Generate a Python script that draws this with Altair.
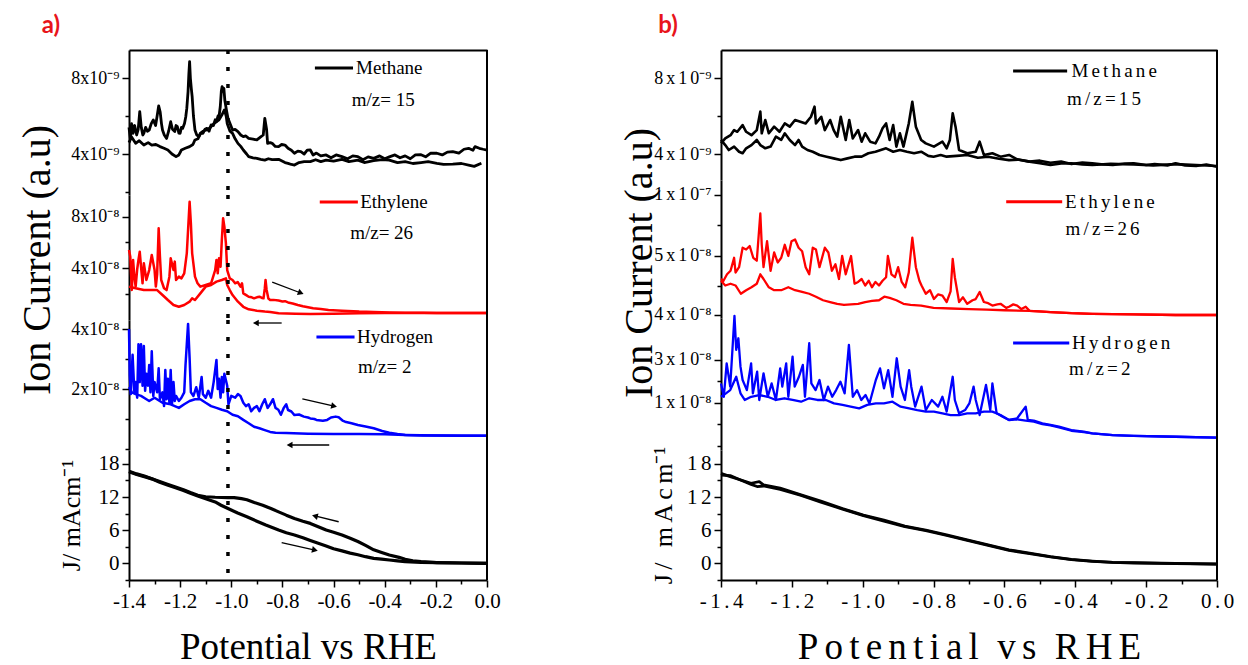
import json
import math
import altair as alt
import pandas as pd

FONT = "Liberation Serif"
HS = "\u200a\u200a"
NBSP = "\u00a0"


def spaced(s):
    return HS.join(s)


# ------------------------------------------------------------------ data
# x = potential vs RHE (V); y = value in units shown on each axis segment
# Panel a ----------------------------------------------------------------
A_CH4_UP = [(-1.400, 5.4), (-1.395, 4.8), (-1.390, 5.6), (-1.384, 5.09), (-1.378, 5.5), (-1.370, 5.0), (-1.364, 5.3),
            (-1.358, 6.23), (-1.352, 5.4), (-1.346, 5.0), (-1.342, 5.09), (-1.335, 5.4), (-1.328, 5.2), (-1.321, 5.26),
            (-1.313, 5.6), (-1.305, 5.79), (-1.296, 5.5), (-1.290, 6.0), (-1.284, 6.53), (-1.278, 6.2), (-1.273, 5.6),
            (-1.269, 5.26), (-1.262, 5.0), (-1.253, 4.82), (-1.245, 5.2), (-1.237, 5.70), (-1.230, 5.3), (-1.221, 5.18),
            (-1.216, 5.5), (-1.211, 5.44), (-1.205, 5.1), (-1.200, 5.09), (-1.195, 5.4), (-1.190, 5.35), (-1.183, 5.6),
            (-1.178, 5.96), (-1.174, 6.4), (-1.169, 7.3), (-1.166, 8.2), (-1.163, 8.86), (-1.160, 8.0), (-1.156, 7.4),
            (-1.153, 7.02), (-1.148, 6.0), (-1.142, 5.26), (-1.135, 5.0), (-1.127, 4.91), (-1.119, 5.1), (-1.111, 5.09),
            (-1.103, 5.3), (-1.095, 5.35), (-1.087, 5.2), (-1.079, 5.53), (-1.070, 5.5), (-1.063, 5.8), (-1.058, 5.70),
            (-1.052, 6.0), (-1.048, 5.96), (-1.043, 6.5), (-1.039, 7.3), (-1.036, 7.54), (-1.032, 7.3), (-1.029, 7.46),
            (-1.025, 6.8), (-1.019, 6.32), (-1.013, 5.88), (-1.005, 5.6), (-0.995, 5.26), (-0.985, 5.3), (-0.974, 5.18),
            (-0.963, 5.0), (-0.953, 4.91), (-0.943, 4.95), (-0.932, 4.82), (-0.915, 4.78), (-0.900, 4.74), (-0.885, 4.9),
            (-0.875, 5.0), (-0.869, 5.88), (-0.862, 5.3), (-0.858, 4.56), (-0.848, 4.6), (-0.840, 4.56), (-0.828, 4.4),
            (-0.815, 4.39), (-0.803, 4.5), (-0.790, 4.47), (-0.778, 4.3), (-0.765, 4.2), (-0.753, 4.04), (-0.740, 4.15),
            (-0.728, 4.12), (-0.715, 4.0), (-0.703, 4.2), (-0.691, 4.21), (-0.680, 3.95), (-0.667, 4.05), (-0.650, 3.9),
            (-0.629, 3.95), (-0.610, 3.8), (-0.590, 3.95), (-0.567, 3.86), (-0.545, 3.75), (-0.525, 3.9), (-0.505, 3.86),
            (-0.485, 3.7), (-0.465, 3.85), (-0.443, 3.77), (-0.420, 3.9), (-0.400, 3.75), (-0.382, 3.85), (-0.360, 3.95),
            (-0.340, 3.8), (-0.320, 3.9), (-0.300, 3.75), (-0.280, 3.95), (-0.258, 3.96), (-0.240, 3.85), (-0.220, 4.05),
            (-0.196, 4.04), (-0.175, 3.95), (-0.155, 4.1), (-0.134, 4.12), (-0.110, 4.05), (-0.090, 4.25), (-0.072, 4.30),
            (-0.055, 4.2), (-0.047, 4.39), (-0.030, 4.3), (-0.015, 4.25), (0.000, 4.21)]
A_CH4_DN = [(-1.400, 4.6), (-1.390, 4.9), (-1.374, 4.56), (-1.360, 4.7), (-1.342, 4.47), (-1.325, 4.6), (-1.311, 4.47),
            (-1.295, 4.5), (-1.279, 4.39), (-1.263, 4.3), (-1.248, 4.21), (-1.232, 4.0), (-1.216, 3.86), (-1.205, 3.95),
            (-1.195, 4.21), (-1.180, 4.3), (-1.163, 4.39), (-1.150, 4.5), (-1.142, 4.74), (-1.130, 4.8), (-1.121, 5.09),
            (-1.110, 5.2), (-1.100, 5.26), (-1.090, 5.3), (-1.079, 5.44), (-1.068, 5.6), (-1.058, 5.70), (-1.048, 5.8),
            (-1.037, 6.05), (-1.027, 6.32), (-1.020, 6.0), (-1.016, 5.61), (-1.005, 5.2), (-0.995, 5.09), (-0.985, 4.8),
            (-0.974, 4.56), (-0.963, 4.4), (-0.953, 4.21), (-0.940, 4.0), (-0.932, 3.86), (-0.915, 3.8), (-0.900, 3.77),
            (-0.885, 3.72), (-0.869, 3.68), (-0.855, 3.75), (-0.840, 3.70), (-0.815, 3.72), (-0.790, 3.55), (-0.778, 3.51),
            (-0.765, 3.45), (-0.753, 3.42), (-0.735, 3.55), (-0.715, 3.6), (-0.691, 3.60), (-0.670, 3.7), (-0.650, 3.6),
            (-0.629, 3.68), (-0.600, 3.62), (-0.567, 3.72), (-0.540, 3.6), (-0.505, 3.68), (-0.480, 3.55), (-0.443, 3.65),
            (-0.410, 3.7), (-0.382, 3.68), (-0.350, 3.55), (-0.320, 3.60), (-0.290, 3.5), (-0.258, 3.55), (-0.230, 3.6),
            (-0.196, 3.51), (-0.170, 3.45), (-0.134, 3.47), (-0.100, 3.5), (-0.072, 3.42), (-0.050, 3.35), (-0.022, 3.51)]

A_C2H4_UP = [(-1.400, 5.41), (-1.395, 4.89), (-1.389, 2.27), (-1.384, 4.63), (-1.379, 3.32), (-1.374, 2.54),
             (-1.368, 3.9), (-1.363, 4.63), (-1.358, 5.28), (-1.353, 4.10), (-1.347, 2.80), (-1.342, 4.37),
             (-1.332, 3.06), (-1.321, 3.84), (-1.311, 5.02), (-1.300, 3.84), (-1.295, 2.54), (-1.290, 3.5),
             (-1.284, 7.11), (-1.279, 4.89), (-1.274, 3.06), (-1.263, 2.41), (-1.253, 2.27), (-1.242, 3.32),
             (-1.237, 4.76), (-1.226, 3.84), (-1.221, 4.50), (-1.216, 3.06), (-1.205, 3.32), (-1.195, 3.19),
             (-1.184, 3.58), (-1.174, 5.15), (-1.169, 6.98), (-1.163, 9.20), (-1.158, 7.5), (-1.153, 5.15),
             (-1.142, 3.32), (-1.132, 2.80), (-1.121, 2.54), (-1.100, 2.67), (-1.079, 2.80), (-1.063, 3.84),
             (-1.058, 4.63), (-1.053, 3.58), (-1.048, 4.76), (-1.042, 4.10), (-1.037, 6.20), (-1.032, 7.90),
             (-1.027, 7.24), (-1.021, 5.93), (-1.016, 3.84), (-1.006, 3.19), (-0.995, 3.06), (-0.985, 2.80),
             (-0.975, 2.9), (-0.964, 2.54), (-0.958, 2.8), (-0.953, 2.01), (-0.940, 1.85), (-0.932, 1.75),
             (-0.920, 1.7), (-0.911, 1.62), (-0.900, 1.7), (-0.890, 1.75), (-0.880, 1.65), (-0.874, 1.62),
             (-0.869, 2.4), (-0.866, 3.06), (-0.862, 2.3), (-0.855, 1.6), (-0.848, 1.49), (-0.835, 1.5),
             (-0.815, 1.45), (-0.800, 1.38), (-0.790, 1.4), (-0.778, 1.3), (-0.760, 1.22), (-0.740, 1.10),
             (-0.720, 1.0), (-0.700, 0.92), (-0.680, 0.84), (-0.650, 0.78), (-0.620, 0.7), (-0.567, 0.65),
             (-0.500, 0.58), (-0.443, 0.55), (-0.380, 0.52), (-0.320, 0.50), (-0.250, 0.49), (-0.196, 0.48),
             (-0.100, 0.47), (0.000, 0.47)]
A_C2H4_DN = [(-1.400, 2.54), (-1.374, 2.41), (-1.342, 2.27), (-1.311, 2.27), (-1.290, 2.27), (-1.269, 1.88),
             (-1.248, 1.49), (-1.226, 1.10), (-1.205, 0.96), (-1.184, 1.10), (-1.163, 1.36), (-1.153, 1.62),
             (-1.142, 1.49), (-1.121, 2.01), (-1.100, 2.54), (-1.079, 2.67), (-1.058, 2.93), (-1.037, 3.06),
             (-1.021, 3.19), (-1.016, 2.67), (-1.006, 2.27), (-0.995, 1.88), (-0.974, 1.36), (-0.953, 0.96),
             (-0.932, 0.76), (-0.900, 0.65), (-0.869, 0.58), (-0.848, 0.55), (-0.815, 0.45), (-0.750, 0.42),
             (-0.691, 0.40), (-0.600, 0.42), (-0.500, 0.45), (-0.400, 0.47), (-0.300, 0.47), (-0.200, 0.47),
             (-0.100, 0.47), (0.000, 0.47)]

A_H2_UP = [(-1.400, 4.0), (-1.397, 2.46), (-1.393, 1.83), (-1.386, 3.14), (-1.379, 1.89), (-1.374, 2.23), (-1.368, 1.71),
           (-1.363, 3.49), (-1.358, 2.23), (-1.353, 3.49), (-1.347, 2.11), (-1.342, 3.43), (-1.337, 1.94), (-1.332, 2.51),
           (-1.326, 2.11), (-1.321, 2.80), (-1.316, 1.89), (-1.311, 3.26), (-1.305, 1.77), (-1.300, 2.23), (-1.290, 1.89),
           (-1.284, 2.69), (-1.279, 1.66), (-1.269, 1.89), (-1.263, 1.43), (-1.258, 2.63), (-1.253, 1.66), (-1.248, 2.34),
           (-1.242, 1.54), (-1.237, 2.63), (-1.232, 1.49), (-1.226, 2.23), (-1.221, 1.60), (-1.216, 1.77), (-1.205, 1.60),
           (-1.195, 1.71), (-1.184, 1.89), (-1.179, 2.80), (-1.174, 3.49), (-1.169, 4.17), (-1.163, 3.03), (-1.158, 1.89),
           (-1.148, 1.77), (-1.137, 2.06), (-1.127, 1.71), (-1.116, 2.40), (-1.111, 1.83), (-1.100, 1.71), (-1.090, 1.94),
           (-1.079, 1.71), (-1.069, 2.23), (-1.058, 2.97), (-1.053, 2.0), (-1.048, 2.34), (-1.042, 1.71), (-1.037, 2.40),
           (-1.032, 1.89), (-1.027, 2.51), (-1.016, 2.11), (-1.011, 1.49), (-1.000, 1.77), (-0.985, 1.71), (-0.974, 1.83),
           (-0.964, 1.77), (-0.953, 1.54), (-0.943, 1.43), (-0.932, 1.49), (-0.922, 1.26), (-0.911, 1.37), (-0.900, 1.43),
           (-0.890, 1.26), (-0.879, 1.49), (-0.869, 1.66), (-0.858, 1.37), (-0.848, 1.49), (-0.837, 1.66), (-0.827, 1.37),
           (-0.816, 1.31), (-0.806, 1.14), (-0.795, 1.37), (-0.785, 1.49), (-0.778, 1.30), (-0.765, 1.25), (-0.753, 1.13),
           (-0.735, 1.15), (-0.716, 1.08), (-0.700, 1.05), (-0.691, 1.02), (-0.675, 1.0), (-0.667, 0.97), (-0.650, 0.95),
           (-0.642, 0.94), (-0.625, 0.97), (-0.610, 1.05), (-0.592, 1.08), (-0.580, 1.06), (-0.565, 0.95), (-0.555, 0.91),
           (-0.530, 0.86), (-0.505, 0.80), (-0.475, 0.75), (-0.443, 0.69), (-0.410, 0.60), (-0.382, 0.54), (-0.350, 0.50),
           (-0.320, 0.47), (-0.250, 0.45), (-0.196, 0.45), (-0.100, 0.44), (0.000, 0.44)]
A_H2_DN = [(-1.400, 2.06), (-1.389, 1.89), (-1.374, 1.83), (-1.353, 1.77), (-1.332, 1.66), (-1.321, 1.60), (-1.300, 1.71),
           (-1.269, 1.54), (-1.237, 1.49), (-1.205, 1.37), (-1.184, 1.49), (-1.163, 1.60), (-1.142, 1.66), (-1.121, 1.66),
           (-1.100, 1.54), (-1.079, 1.43), (-1.058, 1.37), (-1.037, 1.31), (-1.016, 1.26), (-0.995, 1.14), (-0.974, 1.09),
           (-0.953, 0.97), (-0.932, 0.86), (-0.911, 0.74), (-0.890, 0.69), (-0.869, 0.63), (-0.848, 0.57), (-0.827, 0.54),
           (-0.785, 0.53), (-0.700, 0.51), (-0.600, 0.50), (-0.500, 0.50), (-0.400, 0.49), (-0.320, 0.47), (-0.200, 0.45),
           (0.000, 0.44)]

A_J_UP = [(-1.400, 16.7), (-1.370, 16.2), (-1.340, 15.8), (-1.311, 15.3), (-1.280, 14.8), (-1.250, 14.3), (-1.218, 13.8),
          (-1.187, 13.3), (-1.160, 12.8), (-1.131, 12.3), (-1.100, 12.05), (-1.063, 11.95), (-1.013, 11.9), (-0.989, 11.9),
          (-0.960, 11.7), (-0.939, 11.5), (-0.910, 11.0), (-0.877, 10.5), (-0.845, 9.9), (-0.815, 9.3), (-0.785, 8.7),
          (-0.753, 8.1), (-0.720, 7.6), (-0.691, 7.2), (-0.660, 6.6), (-0.629, 6.0), (-0.600, 5.6), (-0.567, 5.1),
          (-0.535, 4.5), (-0.505, 3.9), (-0.475, 3.2), (-0.443, 2.4), (-0.412, 1.9), (-0.382, 1.45), (-0.344, 1.03),
          (-0.320, 0.67), (-0.290, 0.4), (-0.258, 0.24), (-0.196, 0.06), (-0.100, 0.0), (0.000, -0.06)]
A_J_DN = [(-1.400, 16.6), (-1.370, 16.1), (-1.340, 15.7), (-1.311, 15.3), (-1.280, 14.7), (-1.250, 14.2), (-1.218, 13.7),
          (-1.187, 13.2), (-1.160, 12.7), (-1.131, 12.2), (-1.100, 11.7), (-1.063, 11.1), (-1.040, 10.5), (-1.013, 9.9),
          (-0.975, 9.1), (-0.939, 8.4), (-0.900, 7.6), (-0.865, 6.9), (-0.815, 6.0), (-0.785, 5.5), (-0.753, 5.1),
          (-0.720, 4.6), (-0.691, 4.1), (-0.660, 3.6), (-0.629, 3.1), (-0.600, 2.6), (-0.567, 2.2), (-0.535, 1.8),
          (-0.505, 1.5), (-0.475, 1.15), (-0.443, 0.85), (-0.412, 0.7), (-0.382, 0.55), (-0.350, 0.4), (-0.320, 0.24),
          (-0.258, 0.12), (-0.196, 0.06), (-0.100, 0.0), (0.000, -0.06)]

# Panel b ----------------------------------------------------------------
B_CH4_UP = [(-1.400, 4.56), (-1.388, 4.82), (-1.373, 4.99), (-1.363, 5.26), (-1.354, 5.17), (-1.339, 5.52), (-1.329, 5.17),
            (-1.314, 4.99), (-1.299, 5.26), (-1.289, 6.23), (-1.285, 5.09), (-1.275, 5.79), (-1.265, 5.09), (-1.250, 5.44),
            (-1.235, 5.17), (-1.220, 5.61), (-1.206, 5.44), (-1.191, 5.79), (-1.176, 5.70), (-1.161, 5.61), (-1.146, 5.96),
            (-1.136, 6.49), (-1.132, 5.61), (-1.117, 5.96), (-1.107, 5.26), (-1.092, 5.79), (-1.082, 5.26), (-1.072, 4.91),
            (-1.062, 5.96), (-1.048, 4.74), (-1.038, 5.79), (-1.028, 4.82), (-1.013, 5.26), (-1.003, 4.65), (-0.993, 5.09),
            (-0.979, 4.65), (-0.964, 4.56), (-0.954, 4.91), (-0.944, 5.35), (-0.934, 5.61), (-0.924, 4.74), (-0.914, 5.52),
            (-0.905, 4.39), (-0.895, 5.09), (-0.885, 4.39), (-0.870, 5.61), (-0.860, 6.75), (-0.850, 5.44), (-0.835, 4.74),
            (-0.822, 4.56), (-0.799, 4.39), (-0.775, 4.65), (-0.763, 4.3), (-0.754, 4.74), (-0.746, 6.14), (-0.738, 5.44),
            (-0.728, 4.21), (-0.705, 4.04), (-0.681, 4.12), (-0.670, 4.65), (-0.658, 3.95), (-0.634, 4.04), (-0.611, 3.86),
            (-0.587, 3.95), (-0.564, 3.72), (-0.529, 3.60), (-0.500, 3.65), (-0.470, 3.54), (-0.440, 3.6), (-0.411, 3.47),
            (-0.380, 3.55), (-0.352, 3.51), (-0.320, 3.45), (-0.294, 3.42), (-0.260, 3.5), (-0.235, 3.51), (-0.200, 3.42),
            (-0.176, 3.47), (-0.140, 3.4), (-0.117, 3.51), (-0.090, 3.4), (-0.059, 3.37), (-0.030, 3.45), (0.000, 3.33)]
B_CH4_DN = [(-1.400, 4.74), (-1.388, 4.47), (-1.378, 4.21), (-1.363, 4.39), (-1.349, 4.12), (-1.339, 4.04), (-1.329, 4.30),
            (-1.314, 4.47), (-1.299, 4.74), (-1.289, 4.47), (-1.275, 4.30), (-1.260, 4.39), (-1.245, 4.91), (-1.230, 4.74),
            (-1.220, 5.09), (-1.206, 4.74), (-1.191, 4.47), (-1.181, 4.74), (-1.171, 4.39), (-1.156, 4.21), (-1.141, 4.12),
            (-1.122, 3.95), (-1.102, 3.86), (-1.082, 3.77), (-1.062, 3.68), (-1.043, 3.77), (-1.023, 3.86), (-1.003, 3.86),
            (-0.984, 4.04), (-0.964, 4.12), (-0.949, 4.21), (-0.934, 4.30), (-0.914, 4.12), (-0.895, 4.21), (-0.875, 4.12),
            (-0.855, 4.04), (-0.835, 4.12), (-0.815, 3.9), (-0.800, 3.86), (-0.780, 3.95), (-0.763, 3.86), (-0.735, 3.9),
            (-0.705, 3.95), (-0.675, 3.8), (-0.646, 3.86), (-0.615, 3.75), (-0.587, 3.68), (-0.560, 3.7), (-0.529, 3.60),
            (-0.500, 3.52), (-0.470, 3.42), (-0.440, 3.5), (-0.411, 3.51), (-0.380, 3.45), (-0.352, 3.42), (-0.300, 3.48),
            (-0.235, 3.45), (-0.180, 3.4), (-0.117, 3.47), (-0.059, 3.42), (0.000, 3.37)]

B_C2H4_UP = [(-1.400, 4.61), (-1.393, 4.58), (-1.383, 4.69), (-1.373, 4.75), (-1.363, 4.97), (-1.359, 4.72), (-1.349, 4.81),
             (-1.339, 5.14), (-1.329, 5.11), (-1.319, 5.17), (-1.309, 4.97), (-1.299, 4.92), (-1.289, 5.72), (-1.285, 5.19),
             (-1.280, 4.81), (-1.270, 5.25), (-1.260, 4.75), (-1.250, 5.06), (-1.240, 4.89), (-1.230, 4.97), (-1.220, 5.19),
             (-1.210, 5.00), (-1.201, 5.25), (-1.191, 5.28), (-1.181, 5.14), (-1.171, 5.08), (-1.161, 4.81), (-1.151, 4.69),
             (-1.141, 5.14), (-1.132, 5.11), (-1.122, 4.81), (-1.107, 5.14), (-1.097, 5.06), (-1.087, 4.75), (-1.077, 4.86),
             (-1.067, 4.61), (-1.058, 5.00), (-1.048, 4.69), (-1.033, 5.00), (-1.023, 4.53), (-1.013, 4.56), (-1.003, 4.61),
             (-0.993, 4.50), (-0.983, 4.58), (-0.974, 4.47), (-0.964, 4.56), (-0.954, 4.50), (-0.944, 4.58), (-0.934, 4.64),
             (-0.929, 5.00), (-0.919, 4.69), (-0.909, 4.64), (-0.900, 4.81), (-0.890, 4.56), (-0.880, 4.47), (-0.870, 4.72),
             (-0.860, 5.31), (-0.850, 4.81), (-0.840, 4.58), (-0.834, 4.5), (-0.822, 4.36), (-0.810, 4.42), (-0.799, 4.27),
             (-0.787, 4.35), (-0.775, 4.33), (-0.763, 4.22), (-0.752, 4.4), (-0.746, 4.95), (-0.740, 4.64), (-0.728, 4.22),
             (-0.717, 4.3), (-0.705, 4.19), (-0.690, 4.25), (-0.681, 4.27), (-0.670, 4.39), (-0.658, 4.22), (-0.646, 4.2),
             (-0.634, 4.16), (-0.620, 4.18), (-0.611, 4.19), (-0.595, 4.12), (-0.587, 4.14), (-0.575, 4.18), (-0.564, 4.16),
             (-0.552, 4.1), (-0.540, 4.14), (-0.529, 4.07), (-0.500, 4.06), (-0.470, 4.05), (-0.411, 4.03), (-0.352, 4.02),
             (-0.235, 4.01), (-0.117, 4.0), (0.000, 4.0)]
B_C2H4_DN = [(-1.400, 4.58), (-1.388, 4.50), (-1.373, 4.53), (-1.359, 4.50), (-1.344, 4.36), (-1.329, 4.42), (-1.314, 4.47),
             (-1.299, 4.53), (-1.289, 4.69), (-1.280, 4.61), (-1.265, 4.47), (-1.250, 4.42), (-1.230, 4.42), (-1.210, 4.47),
             (-1.191, 4.42), (-1.171, 4.39), (-1.151, 4.36), (-1.132, 4.31), (-1.112, 4.25), (-1.092, 4.22), (-1.072, 4.19),
             (-1.053, 4.17), (-1.033, 4.18), (-1.013, 4.19), (-0.993, 4.22), (-0.974, 4.24), (-0.954, 4.25), (-0.939, 4.31),
             (-0.924, 4.29), (-0.905, 4.25), (-0.885, 4.19), (-0.865, 4.17), (-0.835, 4.16), (-0.800, 4.12), (-0.750, 4.11),
             (-0.700, 4.10), (-0.650, 4.09), (-0.600, 4.08), (-0.529, 4.07), (-0.470, 4.05), (-0.411, 4.03), (-0.352, 4.02),
             (-0.235, 4.01), (-0.117, 4.0), (0.000, 4.0)]

B_H2_UP = [(-1.400, 1.91), (-1.392, 1.29), (-1.384, 2.84), (-1.374, 1.76), (-1.362, 5.05), (-1.357, 3.47), (-1.351, 4.01),
           (-1.345, 2.69), (-1.339, 2.07), (-1.327, 1.60), (-1.315, 2.84), (-1.310, 1.45), (-1.298, 2.46), (-1.292, 1.14),
           (-1.280, 2.38), (-1.268, 1.29), (-1.257, 1.91), (-1.245, 1.14), (-1.233, 2.61), (-1.227, 1.76), (-1.216, 2.84),
           (-1.210, 1.29), (-1.198, 3.16), (-1.192, 1.76), (-1.180, 2.22), (-1.169, 2.77), (-1.163, 1.29), (-1.151, 3.78),
           (-1.145, 1.91), (-1.133, 1.60), (-1.122, 2.07), (-1.110, 1.14), (-1.098, 1.76), (-1.086, 1.29), (-1.075, 1.60),
           (-1.063, 1.99), (-1.051, 1.45), (-1.039, 3.70), (-1.028, 1.29), (-1.016, 1.60), (-1.004, 1.14), (-0.992, 1.37),
           (-0.981, 0.98), (-0.963, 2.07), (-0.951, 2.61), (-0.940, 1.68), (-0.928, 2.53), (-0.916, 1.29), (-0.904, 3.08),
           (-0.893, 1.76), (-0.881, 1.14), (-0.869, 2.53), (-0.863, 1.76), (-0.852, 0.83), (-0.834, 1.76), (-0.822, 0.67),
           (-0.805, 1.14), (-0.787, 0.83), (-0.775, 1.29), (-0.763, 0.60), (-0.746, 2.22), (-0.740, 1.14), (-0.728, 0.52),
           (-0.711, 0.67), (-0.699, 0.98), (-0.687, 1.76), (-0.681, 1.14), (-0.670, 0.44), (-0.652, 1.84), (-0.640, 0.67),
           (-0.634, 1.91), (-0.622, 0.52), (-0.605, 0.36), (-0.587, 0.21), (-0.564, 0.29), (-0.540, 0.83), (-0.534, 0.21),
           (-0.517, 0.18), (-0.493, 0.05), (-0.470, -0.02), (-0.446, -0.10), (-0.411, -0.26), (-0.376, -0.33),
           (-0.352, -0.41), (-0.294, -0.49), (-0.235, -0.53), (-0.117, -0.57), (0.000, -0.61)]
B_H2_DN = [(-1.400, 1.29), (-1.386, 1.45), (-1.374, 1.60), (-1.357, 2.22), (-1.345, 1.45), (-1.333, 1.14), (-1.315, 1.29),
           (-1.292, 1.37), (-1.268, 1.29), (-1.245, 1.14), (-1.221, 1.22), (-1.198, 1.14), (-1.174, 1.06), (-1.151, 1.22),
           (-1.128, 1.14), (-1.104, 1.14), (-1.081, 0.98), (-1.057, 0.91), (-1.034, 0.83), (-1.010, 0.75), (-0.987, 0.91),
           (-0.963, 0.98), (-0.940, 0.98), (-0.916, 1.06), (-0.893, 0.83), (-0.869, 0.75), (-0.846, 0.67), (-0.822, 0.60),
           (-0.799, 0.60), (-0.775, 0.52), (-0.752, 0.44), (-0.728, 0.44), (-0.705, 0.52), (-0.681, 0.52), (-0.658, 0.60),
           (-0.634, 0.60), (-0.611, 0.44), (-0.587, 0.21), (-0.564, 0.24), (-0.540, 0.18), (-0.517, 0.13), (-0.493, 0.02),
           (-0.470, -0.04), (-0.446, -0.13), (-0.411, -0.29), (-0.376, -0.35), (-0.352, -0.41), (-0.294, -0.49),
           (-0.235, -0.53), (-0.117, -0.57), (0.000, -0.61)]

B_J_1 = [(-1.400, 16.3), (-1.374, 15.7), (-1.315, 14.5), (-1.292, 14.8), (-1.280, 14.2), (-1.233, 13.6), (-1.174, 12.4),
         (-1.116, 11.2), (-1.057, 9.9), (-0.998, 8.7), (-0.940, 7.8), (-0.881, 6.7), (-0.822, 6.0), (-0.763, 5.1),
         (-0.705, 4.2), (-0.646, 3.3), (-0.587, 2.4), (-0.529, 1.8), (-0.470, 1.15), (-0.411, 0.67), (-0.352, 0.36),
         (-0.294, 0.12), (-0.235, 0.06), (-0.117, -0.06), (0.000, -0.18)]
B_J_2 = [(-1.400, 16.0), (-1.374, 15.9), (-1.345, 15.1), (-1.315, 14.3), (-1.298, 13.9), (-1.280, 14.0), (-1.233, 13.4),
         (-1.174, 12.3), (-1.116, 11.0), (-1.057, 9.8), (-0.998, 8.6), (-0.940, 7.6), (-0.881, 6.6), (-0.822, 5.9),
         (-0.763, 5.0), (-0.705, 4.1), (-0.646, 3.2), (-0.587, 2.3), (-0.529, 1.7), (-0.470, 1.1), (-0.411, 0.6),
         (-0.352, 0.3), (-0.294, 0.1), (-0.235, 0.0), (-0.117, -0.1), (0.000, -0.2)]

# axis ticks / labels ------------------------------------------------------
X_TICKS = [-1.4, -1.3, -1.2, -1.1, -1.0, -0.9, -0.8, -0.7, -0.6, -0.5, -0.4, -0.3, -0.2, -0.1, 0.0]
X_MAJOR = [-1.4, -1.2, -1.0, -0.8, -0.6, -0.4, -0.2, 0.0]
X_LABELS = ["-1.4", "-1.2", "-1.0", "-0.8", "-0.6", "-0.4", "-0.2", "0.0"]
J_TICKS = [-3, 0, 3, 6, 9, 12, 15, 18]
J_MAJOR = [0, 6, 12, 18]
J_LABELS = ["0", "6", "12", "18"]

DOT_X = -1.013

RED = "#ff0000"
BLUE = "#0000ff"
PANEL_RED = "#e8141b"


def lab_expr(vals, labels):
    v = json.dumps(vals)
    l = json.dumps(labels, ensure_ascii=False)
    return f"indexof({v}, datum.value) >= 0 ? {l}[indexof({v}, datum.value)] : ''"


def tsize(majors, big=7, small=4):
    return {"condition": {"test": f"indexof({json.dumps(majors)}, datum.value) >= 0", "value": big},
            "value": small}


def section(W, H, ydom, yvals, ymaj, ylabs, lines, color, lw=2.5, ylab_size=18,
            ytitle=None, ytitle_pad=14, top=False, bottom=False, xlabs=None, xtitle=None, dotted=False,
            legend=None, arrows=(), texts=(), leg_font=19):
    xs = alt.Scale(domain=[-1.4, 0.0], nice=False, zero=False)
    ys = alt.Scale(domain=ydom, nice=False, zero=False)
    if bottom:
        xaxis = alt.Axis(values=X_TICKS, labelExpr=lab_expr(X_MAJOR, xlabs), tickSize=tsize(X_MAJOR),
                         tickWidth=1.5, tickColor="black", domainColor="black", domainWidth=2,
                         labelFont=FONT, labelFontSize=21, labelColor="black", labelPadding=3,
                         labelAngle=0, labelFlush=False, labelOverlap=False, grid=False,
                         title=xtitle, titleFont=FONT, titleFontSize=37, titleFontWeight="normal",
                         titleColor="black", titlePadding=18)
    elif top:
        xaxis = alt.Axis(orient="top", labels=False, ticks=False, domainColor="black", domainWidth=2,
                         grid=False, title=None)
    else:
        xaxis = None
    yaxis = alt.Axis(values=yvals, labelExpr=lab_expr(ymaj, ylabs), tickSize=tsize(ymaj),
                     tickWidth=1.5, tickColor="black", domainColor="black", domainWidth=2,
                     labelFont=FONT, labelFontSize=ylab_size, labelColor="black", labelPadding=3,
                     labelFlush=False, labelOverlap=False, grid=False,
                     title=ytitle, titleFont=FONT, titleFontSize=26, titleFontWeight="normal",
                     titleColor="black", titlePadding=ytitle_pad)

    def X():
        return alt.X("x:Q", scale=xs, axis=xaxis)

    def Y():
        return alt.Y("y:Q", scale=ys, axis=yaxis)

    frames = []
    for name, pts in lines:
        frames.append(pd.DataFrame({"x": [p[0] for p in pts], "y": [p[1] for p in pts],
                                    "b": name, "o": list(range(len(pts)))}))
    df = pd.concat(frames, ignore_index=True)
    layers = [alt.Chart(df).mark_line(color=color, strokeWidth=lw, strokeJoin="round").encode(
        x=X(), y=Y(), detail="b:N", order="o:Q")]
    layers.append(alt.Chart(pd.DataFrame({"x": [0.0]})).mark_rule(color="black", strokeWidth=2).encode(x=X()))
    if dotted:
        layers.append(alt.Chart(pd.DataFrame({"x": [DOT_X]})).mark_rule(
            color="black", strokeWidth=3.5, strokeDash=[4, 13]).encode(x=X()))
    if legend:
        lx1, lx2, ly, name, tx, mz, mzx, mzy = legend
        layers.append(alt.Chart(pd.DataFrame({"x": [lx1], "x2": [lx2], "y": [ly]})).mark_rule(
            color=color, strokeWidth=3).encode(x=X(), x2="x2:Q", y=Y()))
        layers.append(alt.Chart(pd.DataFrame({"x": [tx], "y": [ly], "t": [name]})).mark_text(
            align="left", baseline="middle", font=FONT, fontSize=leg_font, color="black").encode(
            x=X(), y=Y(), text="t:N"))
        layers.append(alt.Chart(pd.DataFrame({"x": [mzx], "y": [mzy], "t": [mz]})).mark_text(
            align="center", baseline="middle", font=FONT, fontSize=leg_font, color="black").encode(
            x=X(), y=Y(), text="t:N"))
    if arrows:
        adf = pd.DataFrame(list(arrows), columns=["x", "y", "x2", "y2"])
        span = ydom[1] - ydom[0]
        angs = []
        for r in adf.itertuples():
            dx = (r.x2 - r.x) * W / 1.4
            dy = -(r.y2 - r.y) * H / span
            angs.append(math.degrees(math.atan2(dy, dx)) % 360)
        layers.append(alt.Chart(adf).mark_rule(color="black", strokeWidth=1.3).encode(
            x=X(), y=Y(), x2="x2:Q", y2="y2:Q"))
        hd = pd.DataFrame({"x": adf["x2"], "y": adf["y2"], "ang": angs})
        layers.append(alt.Chart(hd).mark_point(shape="triangle-right", filled=True, size=45,
                                               color="black", opacity=1).encode(
            x=X(), y=Y(), angle=alt.Angle("ang:Q", scale=None)))
    for (px, py, t, fs, ang, fnt, wt, col) in texts:
        layers.append(alt.Chart(pd.DataFrame({"t": [t]})).mark_text(
            angle=ang, font=fnt, fontSize=fs, fontWeight=wt, color=col, align="center",
            baseline="middle").encode(x=alt.value(px), y=alt.value(py), text="t:N"))
    return alt.layer(*layers).properties(width=W, height=H)


# ------------------------------------------------------------------ panel a
WA = 358
sup9, sup8 = "x10⁻⁹", "x10⁻⁸"
a1 = section(WA, 145, [1.842, 9.474], [2, 4, 6, 8], [4, 8], ["4" + sup9, "8" + sup9],
             [("u", A_CH4_UP), ("d", A_CH4_DN)], "black", lw=2.8, top=True, dotted=True,
             legend=(-0.673, -0.524, 8.53, "Methane", -0.512, "m/z= 15", -0.406, 6.84),
             texts=[(-78, -24, "a)", 24, 0, "Lato", "bold", PANEL_RED)])
a2 = section(WA, 125, [-0.078, 9.725], [2, 4, 6, 8], [4, 8], ["4" + sup8, "8" + sup8],
             [("u", A_C2H4_UP), ("d", A_C2H4_DN)], RED, lw=2.5, dotted=True,
             legend=(-0.654, -0.505, 9.18, "Ethylene", -0.496, "m/z= 26", -0.412, 6.75),
             arrows=[(-0.840, 2.90, -0.728, 2.04)],
             texts=[(-91, 65, "Ion Current (a.u)", 40, 270, FONT, "normal", "black")])
a3 = section(WA, 130, [-0.033, 4.30], [0, 1, 2, 3, 4], [2, 4], ["2" + sup8, "4" + sup8],
             [("u", A_H2_UP), ("d", A_H2_DN)], BLUE, lw=2.5, dotted=True,
             legend=(-0.667, -0.518, 3.73, "Hydrogen", -0.508, "m/z= 2", -0.400, 2.73),
             arrows=[(-0.803, 4.2, -0.904, 4.2), (-0.722, 1.67, -0.598, 1.43), (-0.617, 0.133, -0.772, 0.133)])
a4 = section(WA, 130, [-3.09, 20.545], J_TICKS, J_MAJOR, J_LABELS,
             [("u", A_J_UP), ("d", A_J_DN)], "black", lw=3.2, ylab_size=21,
             ytitle="J/ mAcm⁻¹", ytitle_pad=14, bottom=True, xlabs=X_LABELS, xtitle="Potential vs RHE",
             dotted=True, arrows=[(-0.580, 7.5, -0.673, 8.55), (-0.803, 3.7, -0.673, 2.36)])
panel_a = alt.vconcat(a1, a2, a3, a4, spacing=0, bounds="flush").resolve_scale(x="independent", y="independent")

# ------------------------------------------------------------------ panel b
WB = 496
b1 = section(WB, 130, [2.632, 9.474], [4, 6, 8], [4, 8], [spaced("4x10") + "⁻⁹", spaced("8x10") + "⁻⁹"],
             [("u", B_CH4_UP), ("d", B_CH4_DN)], "black", lw=2.6, top=True,
             legend=(-0.5755, -0.423, 8.37, spaced("Methane"), -0.411, spaced("m/z=15"), -0.319, 6.89),
             texts=[(-53, -24, "b)", 24, 0, "Lato", "bold", PANEL_RED)])
b2 = section(WB, 138, [3.949, 6.288], [4, 4.49, 5, 5.52, 6.034], [4, 5, 6.034],
             [spaced("4x10") + "⁻⁸", spaced("5x10") + "⁻⁸", spaced("1x10") + "⁻⁷"],
             [("u", B_C2H4_UP), ("d", B_C2H4_DN)], RED, lw=2.3,
             legend=(-0.595, -0.437, 5.92, spaced("Ethylene"), -0.429, spaced("m/z=26"), -0.323, 5.46),
             texts=[(-81, 83, "Ion Current (a.u)", 40, 270, FONT, "normal", "black")])
b3 = section(WB, 132, [-1.186, 4.953], [-1, 0, 1, 2, 3], [1, 3], [spaced("1x10") + "⁻⁸", spaced("3x10") + "⁻⁸"],
             [("u", B_H2_UP), ("d", B_H2_DN)], BLUE, lw=2.3,
             legend=(-0.5755, -0.417, 3.79, spaced("Hydrogen"), -0.409, spaced("m/z=2"), -0.331, 2.58))
b4 = section(WB, 130, [-3.09, 20.545], J_TICKS, J_MAJOR, [spaced(s) for s in J_LABELS],
             [("1", B_J_1), ("2", B_J_2)], "black", lw=2.8, ylab_size=21,
             ytitle=spaced("J/ mAcm") + "⁻¹", ytitle_pad=10, bottom=True, xlabs=[spaced(s) for s in X_LABELS],
             xtitle=spaced("Potential") + NBSP + NBSP + spaced("vs") + NBSP + NBSP + spaced("RHE"))
panel_b = alt.vconcat(b1, b2, b3, b4, spacing=0, bounds="flush").resolve_scale(x="independent", y="independent")

chart = alt.hconcat(panel_a, panel_b, spacing=592, bounds="flush").resolve_scale(
    x="independent", y="independent").properties(
    padding={"left": 10, "top": 6, "right": 5, "bottom": 5}).configure(
    background="white").configure_view(stroke="transparent", strokeWidth=0)

chart.save("out.html", embed_options={"renderer": "svg", "actions": False})
